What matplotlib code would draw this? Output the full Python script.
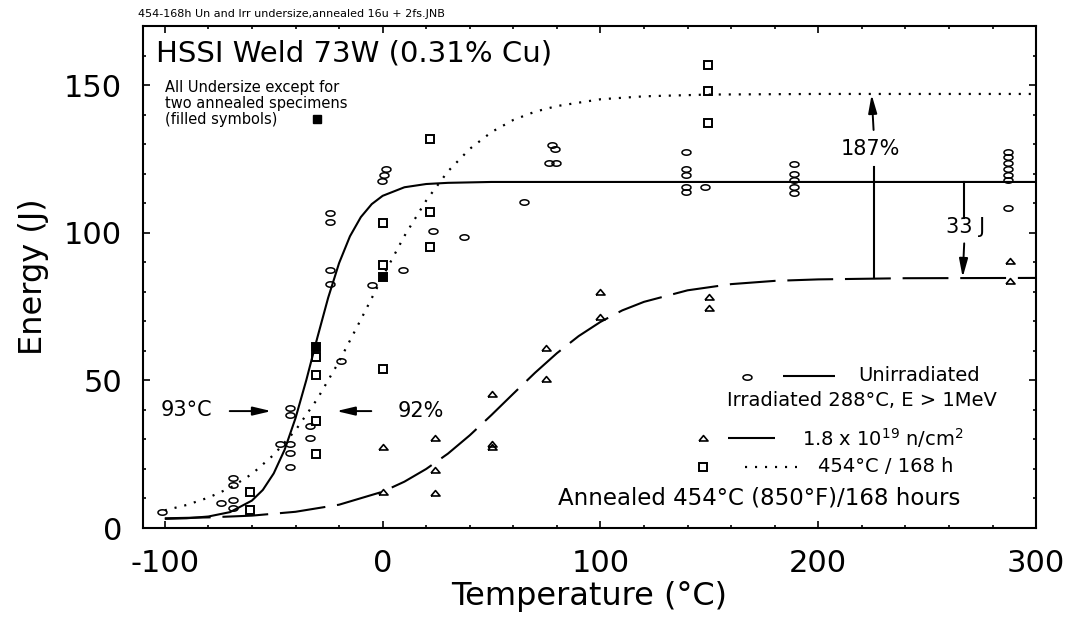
import matplotlib
matplotlib.use("Agg")
import matplotlib.pyplot as plt
from matplotlib.path import Path
from matplotlib.ticker import MultipleLocator
import numpy as np

plt.rcParams['font.family'] = ['DejaVu Sans']
plt.rcParams['mathtext.fontset'] = 'dejavusans'
plt.rcParams['lines.scale_dashes'] = False
plt.rcParams['axes.unicode_minus'] = False

# ---------------- data ----------------
unirr_T = [-101.5, -74, -68.7, -68.7, -68.7, -68.7, -47.2, -42.7, -42.7, -42.7, -42.7, -42.7,
           -33.5, -33.5, -24.3, -24.3, -24, -24, -19, -4.9, 9.3, 1.5, 0.5, -0.5, 23.1, 37.2, 65.1,
           77.8, 79, 76.6, 79.4, 139.3, 139.3, 139.3, 139.3, 139.3, 148.2,
           188.7, 188.7, 188.7, 188.7, 188.7, 287, 287, 287, 287, 287, 287, 287]
unirr_E = [5.5, 8.6, 16.8, 14.6, 9.5, 6.7, 28.3, 40.5, 38.3, 28.3, 25.3, 20.8,
           34.5, 30.6, 106.6, 103.7, 87.4, 82.5, 56.6, 82.3, 87.4, 121.5, 119.5, 117.5, 100.6, 98.7, 110.5,
           129.7, 128.3, 123.5, 123.5, 127.4, 121.5, 119.5, 115.6, 113.9, 115.6,
           123.3, 119.9, 117.8, 115.6, 113.5, 127.4, 125.5, 123.5, 121.6, 119.5, 117.8, 108.3]

irr_T = [0, 0, 24, 24, 24, 50, 50, 50, 75, 75, 100, 100, 150, 150, 288, 288]
irr_E = [27.3, 12.3, 30.5, 19.5, 12.0, 45.5, 28.5, 27.5, 61.0, 50.5, 80.0, 71.3, 78.3, 74.4, 90.5, 83.7]

ann_T = [-60.7, -60.7, -30.4, -30.4, -30.4, -30.4, 0, 0, 0, 21.9, 21.9, 21.9, 149.5, 149.5, 149.5]
ann_E = [12.3, 6.1, 58.0, 51.8, 36.3, 25.1, 103.4, 89.1, 53.8, 131.7, 107.1, 95.3, 156.8, 148.1, 137.3]

ann_full_T = [-30.4, 0]
ann_full_E = [61.4, 85.1]

# fitted curves
unirr_curve_T = [-100, -90, -80, -70, -60, -55, -50, -45, -40, -35, -30, -25, -20, -15, -10, -5,
                 0, 10, 20, 30, 50, 100, 200, 300]
unirr_curve_E = [3.1, 3.3, 3.9, 5.4, 9.3, 12.9, 18.5, 26.5, 37.2, 50.2, 64.4, 78.0, 89.7, 98.8,
                 105.3, 109.7, 112.5, 115.4, 116.5, 116.9, 117.2, 117.2, 117.2, 117.2]

irr_curve_T = [-100, -80, -60, -40, -20, 0, 10, 20, 30, 40, 50, 60, 70, 80, 90, 100, 110, 120,
               140, 160, 180, 200, 240, 300]
irr_curve_E = [3.3, 3.6, 4.2, 5.5, 7.9, 12.3, 15.7, 20.0, 25.2, 31.4, 38.3, 45.5, 52.6, 59.2,
               65.0, 69.8, 73.7, 76.6, 80.5, 82.6, 83.7, 84.2, 84.6, 84.7]

ann_curve_T = [-100, -90, -80, -70, -60, -50, -40, -30, -20, -10, 0, 10, 20, 30, 40, 50, 60,
               70, 80, 100, 120, 150, 200, 300]
ann_curve_E = [6.0, 7.8, 10.3, 13.6, 18.3, 24.8, 33.1, 43.7, 56.4, 70.6, 85.1, 98.9, 110.9,
               120.8, 128.4, 134.1, 138.2, 141.0, 142.9, 145.2, 146.2, 146.8, 147.0, 147.0]

x_ticks = [-100, 0, 100, 200, 300]
y_ticks = [0, 50, 100, 150]

# ---------------- figure ----------------
fig = plt.figure(figsize=(10.69, 6.17), dpi=100)
ax = fig.add_axes([0.1338, 0.1442, 0.8354, 0.8136])
ax.set_xlim(-110, 300)
ax.set_ylim(0, 170)

ell = Path(np.column_stack([np.cos(np.linspace(0, 2*np.pi, 40)),
                            0.6*np.sin(np.linspace(0, 2*np.pi, 40))]))
tri = Path([(-1, -0.55), (1, -0.55), (0, 0.65), (-1, -0.55)])

solid_kw = dict(color='black', lw=1.5, solid_capstyle='butt')
dash_kw = dict(color='black', lw=1.5, dashes=(33, 8.5), dash_capstyle='butt')
dot_kw = dict(color='black', lw=1.6, dashes=(1.5, 5.7), dash_capstyle='butt')

ax.plot(unirr_curve_T, unirr_curve_E, **solid_kw)
ax.plot(irr_curve_T, irr_curve_E, **dash_kw)
ax.plot(ann_curve_T, ann_curve_E, **dot_kw)

ax.plot(unirr_T, unirr_E, ls='none', marker=ell, ms=6.5, mfc='none', mec='black', mew=1.1)
ax.plot(irr_T, irr_E, ls='none', marker=tri, ms=6.5, mfc='none', mec='black', mew=1.2)
ax.plot(ann_T, ann_E, ls='none', marker='s', ms=5.5, mfc='none', mec='black', mew=1.4)
ax.plot(ann_full_T, ann_full_E, ls='none', marker='s', ms=5.5, mfc='black', mec='black', mew=1.4)

# ---------------- axes styling ----------------
for s in ax.spines.values():
    s.set_linewidth(1.5)
ax.set_xticks(x_ticks)
ax.set_yticks(y_ticks)
ax.xaxis.set_minor_locator(MultipleLocator(20))
ax.yaxis.set_minor_locator(MultipleLocator(10))
ax.tick_params(which='both', direction='in', top=True, right=True, width=1.2)
ax.tick_params(which='major', length=5, labelsize=22, pad=15)
ax.tick_params(which='minor', length=2.5)
ax.set_xlabel('Temperature (°C)', fontsize=23, labelpad=2)
ax.set_ylabel('Energy (J)', fontsize=23, labelpad=11)

# ---------------- texts ----------------
ax.text(0.0146, 0.929, 'HSSI Weld 73W (0.31% Cu)', transform=ax.transAxes,
        fontsize=21, va='baseline', ha='left')
note = ['All Undersize except for', 'two annealed specimens', '(filled symbols)']
for s, yy in zip(note, [0.877, 0.846, 0.813]):
    ax.text(0.0246, yy, s, transform=ax.transAxes, fontsize=10.5, va='center', ha='left')
ax.plot([0.1945], [0.815], transform=ax.transAxes, ls='none', marker='s', ms=5.5,
        mfc='black', mec='black')
fig.text(138/1069, 1 - 14/617, '454-168h Un and Irr undersize,annealed 16u + 2fs.JNB',
         fontsize=8, va='center', ha='left')

# legend (custom drawn)
tr = ax.transAxes
ax.plot([0.676], [0.300], transform=tr, ls='none', marker=ell, ms=6.5, mfc='none', mec='black', mew=1.1)
ax.plot([0.717, 0.775], [0.303, 0.303], transform=tr, **solid_kw)
ax.text(0.801, 0.303, 'Unirradiated', transform=tr, fontsize=14, va='center', ha='left')
ax.text(0.654, 0.2536, 'Irradiated 288°C, E > 1MeV', transform=tr, fontsize=14, va='center', ha='left')
ax.plot([0.627], [0.180], transform=tr, ls='none', marker=tri, ms=6.5, mfc='none', mec='black', mew=1.2)
ax.plot([0.655, 0.708], [0.180, 0.180], transform=tr, **solid_kw)
ax.text(0.738, 0.180, '1.8 x 10$^{19}$ n/cm$^{2}$', transform=tr, fontsize=14, va='center', ha='left')
ax.plot([0.627], [0.122], transform=tr, ls='none', marker='s', ms=5.5, mfc='none', mec='black', mew=1.4)
ax.plot([0.674, 0.732], [0.122, 0.122], transform=tr, **dot_kw)
ax.text(0.756, 0.122, '454°C / 168 h', transform=tr, fontsize=14, va='center', ha='left')
ax.text(0.915, 0.059, 'Annealed 454°C (850°F)/168 hours', transform=tr, fontsize=16.5,
        va='center', ha='right')

# annotations
arr = dict(arrowstyle='-|>,head_length=0.55,head_width=0.13', color='black', lw=1.4,
           mutation_scale=20, shrinkA=0, shrinkB=0)
ax.text(-89.9, 40.0, '93°C', fontsize=15, ha='center', va='center')
ax.annotate('', xy=(-51.1, 39.6), xytext=(-70.2, 39.6), arrowprops=arr)
ax.text(7.0, 39.6, '92%', fontsize=15, ha='left', va='center')
ax.annotate('', xy=(-21.2, 39.6), xytext=(-5.2, 39.6), arrowprops=arr)

ax.text(223.7, 128.2, '187%', fontsize=15, ha='center', va='center')
ax.annotate('', xy=(224.5, 146.8), xytext=(225.4, 134.8), arrowprops=arr)
ax.plot([225.7, 225.7], [122.4, 84.7], color='black', lw=1.5)

ax.text(267.7, 102.0, '33 J', fontsize=15, ha='center', va='center')
ax.plot([267.0, 267.0], [117.2, 105.0], color='black', lw=1.5)
ax.annotate('', xy=(266.3, 84.9), xytext=(267.0, 96.4), arrowprops=arr)

fig.savefig('out.png', dpi=100)
